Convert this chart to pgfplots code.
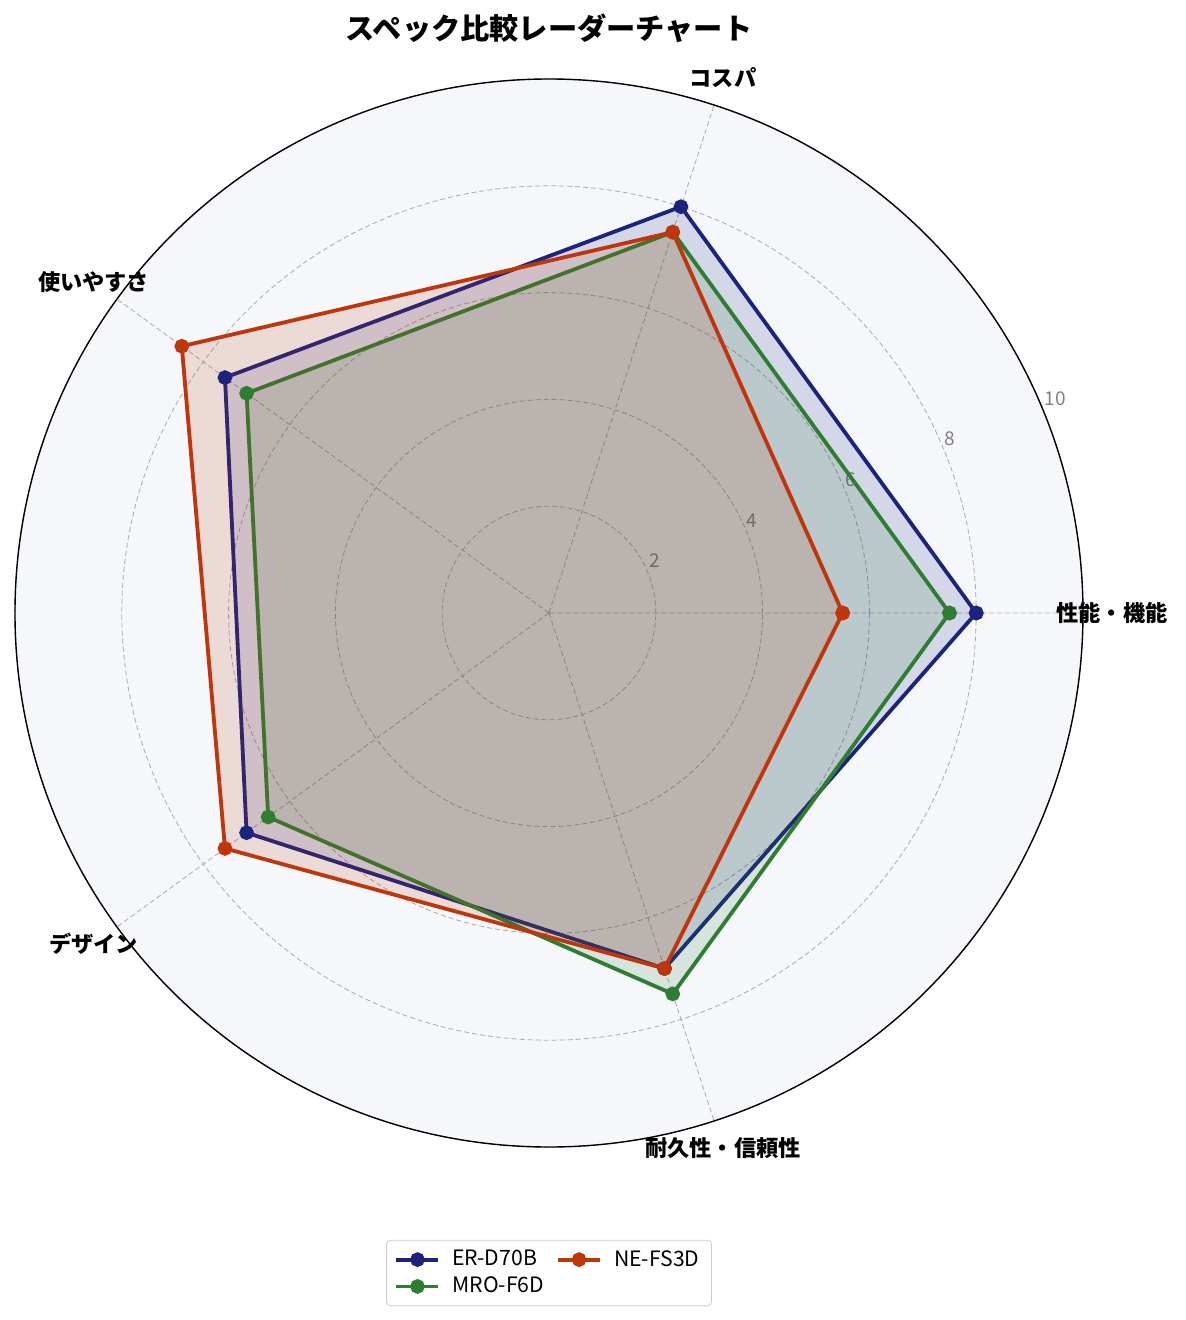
\documentclass[border=0pt]{standalone}
\usepackage{fontspec}
\setmainfont{Noto Sans CJK JP}
\usepackage{pgfplots}
\pgfplotsset{compat=1.18}
\usepgfplotslibrary{polar}
\definecolor{navyc}{HTML}{1A237E}
\definecolor{greenc}{HTML}{2E7D32}
\definecolor{redc}{HTML}{BF360C}
\definecolor{bgc}{HTML}{F5F7FB}
\definecolor{gridc}{HTML}{AAAAAA}
\definecolor{tickc}{HTML}{808080}
\begin{document}
\begin{tikzpicture}
\path (-274.5pt,-353.5pt) rectangle (318pt,306.5pt);
\fill[bgc] (0,0) circle (267pt);
\begin{scope}[font=\fontsize{9.5}{11}\selectfont, text=tickc]
\node at (53pt,26pt) {2};
\node at (101.5pt,46pt) {4};
\node at (151pt,66.5pt) {6};
\node at (200.5pt,87pt) {8};
\node at (253pt,107pt) {10};
\end{scope}
\begin{polaraxis}[
  at={(0,0)}, anchor=center,
  scale only axis, width=534pt, height=534pt,
  ymin=0, ymax=10,
  xtick={0,72,144,216,288}, xticklabels={},
  ytick={2,4,6,8,10}, yticklabels={},
  major tick length=0pt,
  grid=major,
  major grid style={gridc, line width=0.4pt, dash pattern=on 2.5pt off 1.5pt},
  axis line style={black, line width=0.7pt},
  y axis line style={draw=none},
  legend columns=2,
  legend style={at={(0.5,-0.118)}, anchor=center, draw=black!20, rounded corners=2pt,
    font=\fontsize{10.6}{12.5}\selectfont, column sep=4pt, row sep=0pt,
    inner xsep=4pt, inner ysep=3pt},
  legend cell align=left,
  legend image code/.code={\draw[mark repeat=2,mark phase=2,#1] plot coordinates {(0pt,0pt)(10.5pt,0pt)(21pt,0pt)};},
]
\addplot[navyc, line width=1.9pt, fill=navyc, fill opacity=0.15, mark=*, mark size=2.7pt, mark options={fill=navyc, fill opacity=1}, forget plot]
  coordinates {(0,8.0) (72,8.0) (144,7.5) (216,7.0) (288,7.0) (360,8.0)};
\addplot[greenc, line width=1.9pt, fill=greenc, fill opacity=0.15, mark=*, mark size=2.7pt, mark options={fill=greenc, fill opacity=1}, forget plot]
  coordinates {(0,7.5) (72,7.5) (144,7.0) (216,6.5) (288,7.5) (360,7.5)};
\addplot[redc, line width=1.9pt, fill=redc, fill opacity=0.15, mark=*, mark size=2.7pt, mark options={fill=redc, fill opacity=1}, forget plot]
  coordinates {(0,5.5) (72,7.5) (144,8.5) (216,7.5) (288,7.0) (360,5.5)};
\addlegendimage{navyc, line width=1.9pt, mark=*, mark size=2.7pt}
\addlegendentry{ER-D70B}
\addlegendimage{redc, line width=1.9pt, mark=*, mark size=2.7pt}
\addlegendentry{NE-FS3D}
\addlegendimage{greenc, line width=1.9pt, mark=*, mark size=2.7pt}
\addlegendentry{MRO-F6D}
\end{polaraxis}
\begin{scope}[font=\fontsize{11.1}{13}\selectfont\bfseries]
\node at (0:281.5pt) {性能・機能};
\node at (72:281.5pt) {コスパ};
\node at (144:281.5pt) {使いやすさ};
\node at (216:281.5pt) {デザイン};
\node at (288:281.5pt) {耐久性・信頼性};
\end{scope}
\node[font=\fontsize{14.6}{17}\selectfont\bfseries] at (0,292.5pt) {スペック比較レーダーチャート};
\end{tikzpicture}
\end{document}
